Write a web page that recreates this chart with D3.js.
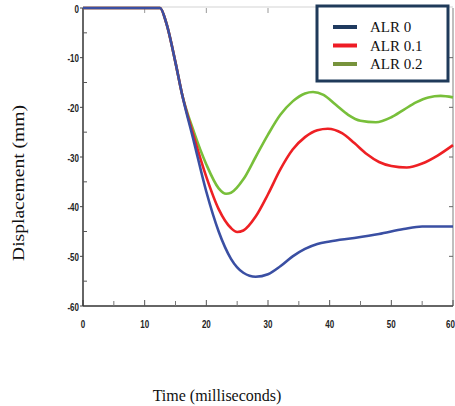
<!DOCTYPE html>
<html>
<head>
<meta charset="utf-8">
<script src="https://cdn.jsdelivr.net/npm/d3@7"></script>
<style>
  body { margin: 0; background: #fff; }
  svg { display: block; }
</style>
</head>
<body>
<svg id="chart" width="455" height="406"></svg>
<script>
// values
var alr0T = [0, 12.5, 13.5, 15, 16, 18, 20, 22, 24, 26, 28, 30, 32, 34, 36, 38, 40, 44, 48, 52, 55, 60];
var alr0V = [0, 0, -3, -11, -17, -27, -37, -45, -50.5, -53.3, -54.1, -53.6, -52, -50, -48.5, -47.5, -47, -46.3, -45.5, -44.5, -44, -44];

var alr1T = [0, 12.5, 13.5, 15, 16, 18, 20, 22, 24, 25, 26, 28, 30, 32, 34, 36, 38, 39.7, 42, 44, 46, 48, 50, 52.5, 55, 57.5, 60];
var alr1V = [0, 0, -3, -11, -17, -26, -34, -40.5, -44.3, -45.1, -44.8, -42, -37.5, -32.5, -28.5, -26, -24.6, -24.3, -25.2, -27.2, -29.4, -31, -31.8, -32.1, -31.3, -29.7, -27.6];

var alr2T = [0, 12.5, 13.5, 15, 16, 18, 20, 22, 23.2, 24, 26, 28, 30, 32, 34, 36, 37.3, 39, 41, 43, 45, 47.5, 50, 52, 54, 56, 58, 60];
var alr2V = [0, 0, -3, -11, -17, -25, -31.5, -36.3, -37.4, -37.2, -34.5, -30, -25.5, -21.5, -18.8, -17.2, -16.9, -17.5, -19.5, -21.5, -22.7, -23, -22, -20.5, -19, -18, -17.7, -18];

var seriesNames = ["ALR 0", "ALR 0.1", "ALR 0.2"];
var xTicks = [0, 10, 20, 30, 40, 50, 60];
var yTicks = [0, -10, -20, -30, -40, -50, -60];

var svg = d3.select("#chart");
var x = d3.scaleLinear().domain([0, 60]).range([83, 453]);
var y = d3.scaleLinear().domain([0, -60]).range([8, 306]);

var lineColors = ["#3a4fa3", "#ee2024", "#78bf3a"];
var keyColors = ["#1f3a5f", "#ee1c25", "#77933c"];
var tickFont = "'Liberation Sans Narrow', 'Liberation Sans', Arial, sans-serif";
var serif = "'Liberation Serif', 'Times New Roman', serif";

// frame (top + right, light)
svg.append("line").attr("x1", x(0)).attr("x2", x(60)).attr("y1", y(0) - 1).attr("y2", y(0) - 1)
  .attr("stroke", "#e2e2e2").attr("stroke-width", 1.5);
svg.append("line").attr("x1", x(60)).attr("x2", x(60)).attr("y1", y(0)).attr("y2", y(-60))
  .attr("stroke", "#aaa").attr("stroke-width", 1.5);

var minorX = d3.range(5, 60, 10);
var minorY = d3.range(-5, -60, -10);

// ticks on the top and right frame
svg.selectAll(".tt").data([10, 20, 30, 40, 50]).enter().append("line")
  .attr("x1", function (d) { return x(d); }).attr("x2", function (d) { return x(d); })
  .attr("y1", y(0)).attr("y2", y(0) + 5).attr("stroke", "#999").attr("stroke-width", 1);
svg.selectAll(".rt").data([-10, -20, -30, -40, -50]).enter().append("line")
  .attr("y1", function (d) { return y(d); }).attr("y2", function (d) { return y(d); })
  .attr("x1", x(60) - 4).attr("x2", x(60)).attr("stroke", "#666").attr("stroke-width", 1);

// bottom axis
var gx = svg.append("g").attr("transform", "translate(0," + y(-60) + ")");
gx.append("line").attr("x1", x(0)).attr("x2", x(60)).attr("stroke", "#333").attr("stroke-width", 1.5);
gx.selectAll(".mj").data(xTicks).enter().append("line")
  .attr("x1", function (d) { return x(d); }).attr("x2", function (d) { return x(d); })
  .attr("y1", -6).attr("y2", 0).attr("stroke", "#555");
gx.selectAll(".mn").data(minorX).enter().append("line")
  .attr("x1", function (d) { return x(d); }).attr("x2", function (d) { return x(d); })
  .attr("y1", -5).attr("y2", 0).attr("stroke", "#777");
gx.selectAll("text").data(xTicks).enter().append("text")
  .attr("x", function (d) { return d === 60 ? 455 : x(d); }).attr("y", 21)
  .attr("text-anchor", function (d) { return d === 60 ? "end" : "middle"; })
  .attr("font-family", tickFont)
  .attr("font-weight", "bold").attr("font-size", 10).attr("fill", "#222")
  .attr("transform", function (d) {
    var px = d === 60 ? 455 : x(d);
    return "translate(" + px + ",0) scale(0.8,1.15) translate(" + (-px) + ",-2)";
  })
  .text(function (d) { return d; });

// left axis
var gy = svg.append("g").attr("transform", "translate(" + x(0) + ",0)");
gy.append("line").attr("y1", y(0)).attr("y2", y(-60)).attr("stroke", "#333").attr("stroke-width", 1.5);
gy.selectAll(".mj").data(yTicks).enter().append("line")
  .attr("y1", function (d) { return y(d); }).attr("y2", function (d) { return y(d); })
  .attr("x1", -3).attr("x2", 0).attr("stroke", "#444");
gy.selectAll(".mn").data(minorY).enter().append("line")
  .attr("y1", function (d) { return y(d); }).attr("y2", function (d) { return y(d); })
  .attr("x1", 0).attr("x2", 4).attr("stroke", "#555");
gy.selectAll("text").data(yTicks).enter().append("text")
  .attr("x", -4).attr("y", function (d) { return y(d) + 4; })
  .attr("text-anchor", "end")
  .attr("font-family", tickFont)
  .attr("font-weight", "bold").attr("font-size", 10).attr("fill", "#222")
  .attr("transform", function (d) { return "translate(-4," + y(d) + ") scale(0.8,1.15) translate(4," + (-y(d)) + ")"; })
  .text(function (d) { return d; });

// curves
var line = d3.line()
  .x(function (d) { return x(d[0]); })
  .y(function (d) { return y(d[1]); })
  .curve(d3.curveMonotoneX);

var series = [d3.zip(alr0T, alr0V), d3.zip(alr1T, alr1V), d3.zip(alr2T, alr2V)];
[2, 1, 0].forEach(function (i) {
  svg.append("path").datum(series[i])
    .attr("d", line)
    .attr("fill", "none")
    .attr("stroke", lineColors[i])
    .attr("stroke-width", 2.6)
    .attr("stroke-linejoin", "round");
});

// legend
var lg = svg.append("g");
lg.append("rect").attr("x", 317).attr("y", 6).attr("width", 131).attr("height", 75)
  .attr("fill", "#fff").attr("stroke", "#1f3a5a").attr("stroke-width", 3);
seriesNames.forEach(function (name, i) {
  var ly = 27 + i * 18.5;
  lg.append("line").attr("x1", 333).attr("x2", 357).attr("y1", ly).attr("y2", ly)
    .attr("stroke", keyColors[i]).attr("stroke-width", 4);
  lg.append("text").attr("x", 370).attr("y", ly + 5)
    .attr("font-family", serif)
    .attr("font-size", 15).attr("fill", "#111").text(name);
});

// axis titles
svg.append("text")
  .attr("transform", "translate(24,183) rotate(-90)")
  .attr("text-anchor", "middle")
  .attr("font-family", serif)
  .attr("font-size", 16).attr("fill", "#111")
  .attr("textLength", 156).attr("lengthAdjust", "spacingAndGlyphs")
  .text("Displacement (mm)");
svg.append("text")
  .attr("x", 217).attr("y", 401)
  .attr("text-anchor", "middle")
  .attr("font-family", serif)
  .attr("font-size", 16).attr("fill", "#111")
  .text("Time (milliseconds)");
</script>
</body>
</html>
